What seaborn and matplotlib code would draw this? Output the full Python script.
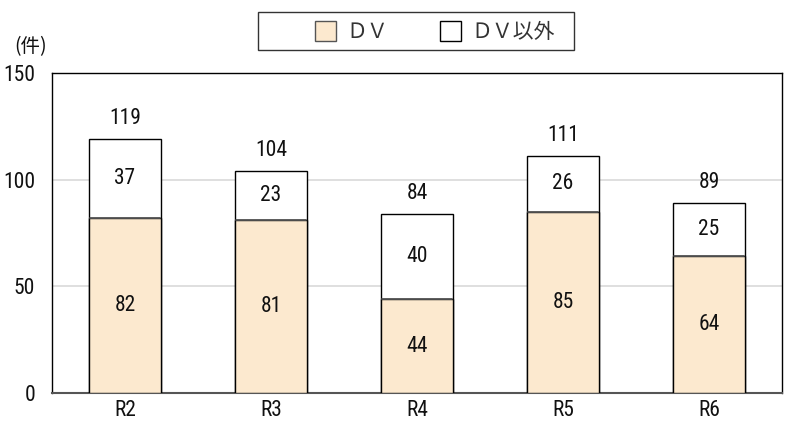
import matplotlib
matplotlib.use("Agg")
import matplotlib.pyplot as plt
import seaborn as sns
import pandas as pd
from matplotlib.patches import Patch, Rectangle

# 年度別の件数
years = ["R2", "R3", "R4", "R5", "R6"]
dv = [82, 81, 44, 85, 64]
non_dv = [37, 23, 40, 26, 25]
totals = [119, 104, 84, 111, 89]

sns.set_theme(style="white")
num_font = ["Roboto Condensed", "DejaVu Sans"]
jp_font = ["Noto Sans CJK JP", "DejaVu Sans"]
plt.rcParams["font.family"] = num_font
plt.rcParams["text.color"] = "#111111"

dv_color = "#FCE9CF"
df = pd.DataFrame({"year": years, "dv": dv, "non_dv": non_dv, "total": totals})

fig = plt.figure(figsize=(7.87, 4.23), dpi=100)
ax = fig.add_axes([52 / 787, 30 / 423, 730 / 787, 320 / 423])

# 積み上げ棒：上段（合計）を先に描き、下段のDVを重ねる
sns.barplot(data=df, x="year", y="total", color="white", edgecolor="black",
            linewidth=1.0, width=0.49, ax=ax, saturation=1, zorder=3)
sns.barplot(data=df, x="year", y="dv", color=dv_color, edgecolor="black",
            linewidth=1.0, width=0.49, ax=ax, saturation=1, zorder=3)
# DVとDV以外の境界線
for p in ax.patches[len(years):]:
    x0, w, h = p.get_x(), p.get_width(), p.get_height()
    ax.plot([x0 + 0.002, x0 + w - 0.002], [h, h], color="#555555", lw=1.3, zorder=4)

ax.set_ylim(0, 150)
ax.set_xlim(-0.5, 4.5)
ax.set_yticks([0, 50, 100, 150])
ax.yaxis.grid(True, color="#D9D9D9", lw=1.2, zorder=0)
ax.set_axisbelow(True)
ax.set_xlabel("")
ax.set_ylabel("")
for s in ax.spines.values():
    s.set_color("black")
    s.set_linewidth(1.0)
ax.spines["bottom"].set_color("#555555")
ax.spines["bottom"].set_linewidth(1.5)
ax.tick_params(axis="both", length=0, labelsize=15.5, colors="#111111")
ax.tick_params(axis="y", pad=12)
ax.tick_params(axis="x", pad=5)

for i, (d, n, t) in enumerate(zip(dv, non_dv, totals)):
    ax.text(i, d / 2, str(d), ha="center", va="center", fontsize=15.5, zorder=5)
    ax.text(i, d + n / 2, str(n), ha="center", va="center", fontsize=15.5, zorder=5)
    ax.text(i, t + 7, str(t), ha="center", va="baseline", fontsize=15.5, zorder=5)

fig.text(14 / 787, 1 - 47 / 423, "(件)", ha="left", va="center", fontsize=14,
         family=jp_font)

# 凡例（枠は図の座標で描く）
fig.patches.append(Rectangle((258 / 787, 1 - 50 / 423), 316 / 787, 38 / 423,
                             transform=fig.transFigure, facecolor="white",
                             edgecolor="#333333", lw=1.0))
handles = [Patch(facecolor=dv_color, edgecolor="#555555", label="ＤＶ"),
           Patch(facecolor="white", edgecolor="black", label="ＤＶ以外")]
leg = fig.legend(handles=handles, loc="center left",
                 bbox_to_anchor=(298 / 787, 1 - 32 / 423),
                 ncol=2, frameon=False,
                 prop={"family": jp_font, "size": 15},
                 handlelength=1.0, handleheight=1.05, columnspacing=2.5,
                 borderpad=0.3, handletextpad=0.5)
for t in leg.get_texts():
    t.set_color("#333333")

fig.savefig("out.png", dpi=100)
